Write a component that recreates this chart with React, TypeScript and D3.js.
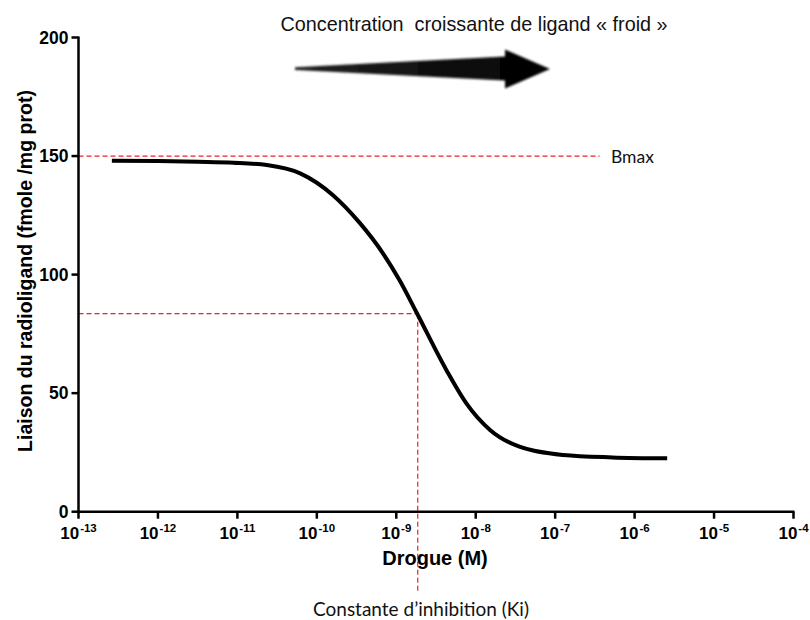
import React from "react";
import * as d3 from "d3";

// ---- Data ----
const xTickExponents = [-13, -12, -11, -10, -9, -8, -7, -6, -5, -4];
const yTickValues = [0, 50, 100, 150, 200];
const curveLogConc = [-12.58, -12.0, -11.5, -11.05, -10.63, -10.21, -9.8, -9.46, -9.17, -8.96, -8.74, -8.37, -8.12, -7.82, -7.45, -6.9, -6.28, -5.59];
const curveBinding = [148.0, 147.9, 147.6, 147.2, 146.2, 142.7, 133.6, 121.8, 109.1, 97.7, 83.7, 59.8, 45.8, 34.5, 27.4, 23.9, 22.9, 22.5];
const bmaxValue = 150;
const bmaxLineEndLog = -6.44;
const kiLog = -8.73;
const kiBinding = 83.5;

const titleText = "Concentration\u00a0\u00a0croissante de ligand « froid »";
const yAxisTitle = "Liaison du radioligand (fmole /mg prot)";
const xAxisTitle = "Drogue (M)";
const bmaxLabel = "Bmax";
const kiLabel = "Constante d\u2019inhibition (Ki)";

const W = 810;
const H = 620;

export default function App() {
  const x = d3.scaleLog().domain([1e-13, 1e-4]).range([78.5, 793.5]);
  const y = d3.scaleLinear().domain([0, 200]).range([511.7, 37.5]);

  const pts: [number, number][] = curveLogConc.map((l, i) => [Math.pow(10, l), curveBinding[i]]);
  const line = d3
    .line<[number, number]>()
    .x((d) => x(d[0]))
    .y((d) => y(d[1]))
    .curve(d3.curveMonotoneX);

  const x0 = x(1e-13);
  const x1 = x(1e-4);
  const y0 = y(0);
  const yTop = y(200);
  const red = "#f02020";
  const kiX = x(Math.pow(10, kiLog));
  const kiY = y(kiBinding);

  return (
    <svg
      width={W}
      height={H}
      style={{ position: "absolute", left: 0, top: 0, background: "#fff" }}
      fontFamily="'Liberation Sans', Arial, sans-serif"
    >
      <defs>
        <filter id="soft" x="-10%" y="-50%" width="120%" height="200%">
          <feGaussianBlur stdDeviation="0.9" />
        </filter>
        <linearGradient id="arrowGrad" x1="0" y1="0" x2="1" y2="0">
          <stop offset="0" stopColor="#222" />
          <stop offset="1" stopColor="#000" />
        </linearGradient>
      </defs>
      <rect x={0} y={0} width={W} height={H} fill="#fff" />

      {/* Title */}
      <text x={474} y={31} textAnchor="middle" fontSize={19.8} fill="#111" style={{ whiteSpace: "pre" }}>
        {titleText}
      </text>

      {/* Arrow */}
      <path
        d="M295,67.2 L505,56.5 L505,49.5 L550,69 L505,88.5 L505,80.5 L295,70 Z"
        fill="url(#arrowGrad)"
        filter="url(#soft)"
      />

      {/* Reference dashed lines */}
      <line
        x1={x0}
        x2={x(Math.pow(10, bmaxLineEndLog))}
        y1={y(bmaxValue)}
        y2={y(bmaxValue)}
        stroke={red}
        strokeWidth={1.2}
        strokeDasharray="5,3"
      />
      <line x1={x0} x2={kiX} y1={kiY} y2={kiY} stroke={red} strokeWidth={1.2} strokeDasharray="5,3" />
      <line x1={kiX} x2={kiX} y1={kiY} y2={591} stroke={red} strokeWidth={1.2} strokeDasharray="5,3" />

      {/* Curve */}
      <path d={line(pts) || ""} fill="none" stroke="#000" strokeWidth={4} strokeLinecap="butt" />

      {/* Axes */}
      <line x1={x0} x2={x0} y1={yTop - 1} y2={y0 + 1.25} stroke="#000" strokeWidth={2.5} />
      <line x1={x0 - 1.25} x2={x1 + 1} y1={y0} y2={y0} stroke="#000" strokeWidth={2.5} />
      {yTickValues.map((v) => (
        <g key={"y" + v}>
          <line x1={x0 - 7} x2={x0} y1={y(v)} y2={y(v)} stroke="#000" strokeWidth={2.5} />
          <text x={x0 - 10} y={y(v)} dy="0.36em" textAnchor="end" fontSize={17.5} fontWeight="bold" fill="#000">
            {v}
          </text>
        </g>
      ))}
      {xTickExponents.map((e) => {
        const px = x(Math.pow(10, e));
        return (
          <g key={"x" + e}>
            <line x1={px} x2={px} y1={y0} y2={y0 + 7} stroke="#000" strokeWidth={2.5} />
            <text x={px} y={539} textAnchor="middle" fontWeight="bold" fill="#000">
              <tspan fontSize={17}>10</tspan>
              <tspan fontSize={11.5} dy={-7} dx={1}>
                {"-" + Math.abs(e)}
              </tspan>
            </text>
          </g>
        );
      })}

      {/* Axis titles */}
      <text
        transform={`translate(25,271) rotate(-90)`}
        textAnchor="middle"
        fontSize={19.5}
        fontWeight="bold"
        fill="#000"
        dy="0.35em"
      >
        {yAxisTitle}
      </text>
      <text x={435} y={565} textAnchor="middle" fontSize={20} fontWeight="bold" fill="#000">
        {xAxisTitle}
      </text>

      {/* Annotations */}
      <text x={611} y={163} fontSize={17.5} fill="#111" fontFamily="Lato, 'Open Sans', sans-serif">
        {bmaxLabel}
      </text>
      <text x={421} y={616} textAnchor="middle" fontSize={19} fill="#111" fontFamily="Lato, 'Open Sans', sans-serif">
        {kiLabel}
      </text>
    </svg>
  );
}
